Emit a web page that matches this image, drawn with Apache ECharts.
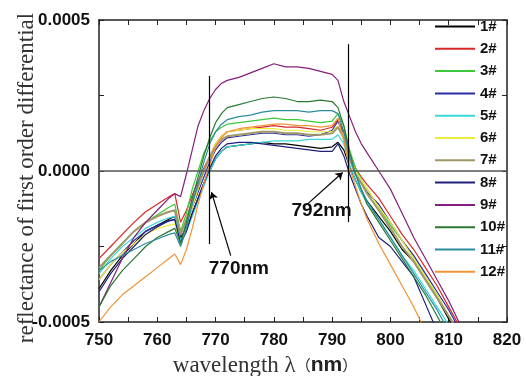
<!DOCTYPE html>
<html>
<head>
<meta charset="utf-8">
<script src="https://cdn.jsdelivr.net/npm/echarts@6/dist/echarts.min.js"></script>
<style>
  html, body { margin: 0; padding: 0; background: #fff; }
  #chart { width: 526px; height: 376px; }
</style>
</head>
<body>
<div id="chart"></div>
<script>
    // wavelength (nm)
    var wavelengths = [750, 752, 754, 756, 758, 760, 762, 763, 764, 765, 766, 767, 768, 769, 770, 771, 772,
                       774, 776, 778, 780, 782, 784, 786, 788, 790, 791, 792, 793, 794, 795, 796,
                       798, 800, 802, 804, 806, 808, 810, 812, 814];

    // first order differential, in units of 1e-4
    var s1  = [-3.9, -3.3, -2.8, -2.4, -2.0, -1.8, -1.6, -1.5, -2.2, -1.9, -1.4, -0.9, -0.4, 0.0, 0.4, 0.65, 0.8,
               0.85, 0.9, 0.95, 0.9, 0.9, 0.85, 0.8, 0.75, 0.8, 0.95, 0.7, 0.15, -0.3, -0.7, -1.0,
               -1.5, -2.0, -2.6, -3.0, -3.6, -4.2, -4.9, -5.5, -6.2];
    var s2  = [-2.9, -2.5, -2.1, -1.7, -1.35, -1.1, -0.85, -0.75, -1.7, -1.3, -0.8, -0.35, 0.1, 0.5, 0.9, 1.15, 1.3,
               1.35, 1.4, 1.45, 1.5, 1.45, 1.45, 1.4, 1.35, 1.45, 1.7, 1.3, 0.6, 0.1, -0.2, -0.45,
               -0.9, -1.5, -2.1, -2.6, -3.2, -3.8, -4.5, -5.2, -5.9];
    var s3  = [-3.3, -2.8, -2.4, -2.0, -1.7, -1.45, -1.2, -1.1, -2.0, -1.4, -0.6, 0.0, 0.6, 1.0, 1.3, 1.45, 1.55,
               1.6, 1.65, 1.7, 1.75, 1.7, 1.7, 1.65, 1.6, 1.65, 1.9, 1.5, 0.7, 0.1, -0.3, -0.6,
               -1.2, -1.8, -2.3, -2.9, -3.5, -4.1, -4.8, -5.5, -6.2];
    var s4  = [-3.6, -3.1, -2.7, -2.3, -2.0, -1.8, -1.65, -1.6, -2.3, -1.8, -1.2, -0.7, -0.2, 0.3, 0.7, 0.95, 1.1,
               1.15, 1.2, 1.25, 1.25, 1.2, 1.2, 1.15, 1.2, 1.35, 1.65, 1.2, 0.4, -0.1, -0.4, -0.7,
               -1.1, -1.7, -2.3, -2.8, -3.4, -4.0, -4.6, -5.3, -6.0];
    var s5  = [-3.4, -2.9, -2.5, -2.2, -1.9, -1.7, -1.55, -1.5, -2.3, -2.0, -1.5, -1.0, -0.5, 0.0, 0.4, 0.65, 0.8,
               0.85, 0.9, 0.95, 1.0, 1.0, 1.0, 1.05, 1.05, 1.05, 1.2, 0.9, 0.2, -0.3, -0.7, -1.1,
               -1.6, -2.2, -2.8, -3.3, -3.9, -4.5, -5.1, -5.8, -6.5];
    var s6  = [-3.6, -3.1, -2.7, -2.4, -2.1, -1.9, -1.8, -1.75, -2.4, -1.9, -1.2, -0.6, 0.0, 0.5, 0.9, 1.15, 1.3,
               1.35, 1.4, 1.4, 1.4, 1.35, 1.35, 1.3, 1.3, 1.3, 1.5, 1.2, 0.5, 0.0, -0.3, -0.6,
               -1.2, -1.7, -2.3, -2.9, -3.5, -4.1, -4.8, -5.5, -6.2];
    var s7  = [-3.2, -2.8, -2.4, -2.0, -1.7, -1.5, -1.35, -1.3, -2.1, -1.6, -1.0, -0.5, 0.0, 0.45, 0.8, 1.05, 1.15,
               1.2, 1.25, 1.3, 1.3, 1.25, 1.25, 1.2, 1.2, 1.25, 1.45, 1.1, 0.4, -0.1, -0.4, -0.75,
               -1.3, -1.9, -2.5, -3.0, -3.6, -4.2, -4.8, -5.4, -6.0];
    var s8  = [-4.0, -3.4, -2.9, -2.5, -2.1, -1.85, -1.65, -1.6, -2.4, -2.0, -1.4, -0.9, -0.4, 0.1, 0.5, 0.75, 0.9,
               0.95, 0.95, 0.9, 0.85, 0.8, 0.75, 0.7, 0.65, 0.65, 0.9, 0.5, -0.1, -0.6, -1.1, -1.5,
               -2.2, -2.5, -3.0, -3.5, -4.4, -5.3, -6.0, -6.6, -7.2];
    var s9  = [-4.5, -3.7, -2.9, -2.2, -1.7, -1.3, -0.9, -0.75, -0.85, -0.1, 0.7, 1.5, 2.0, 2.4, 2.7, 2.9, 3.0,
               3.1, 3.25, 3.4, 3.55, 3.45, 3.45, 3.4, 3.3, 3.2, 3.0, 2.3, 1.8, 1.3, 0.9, 0.6,
               0.0, -0.6, -1.4, -2.2, -2.9, -3.6, -4.3, -5.1, -5.9];
    var s10 = [-4.5, -3.8, -3.3, -2.9, -2.5, -2.2, -2.0, -1.9, -2.4, -1.7, -0.9, -0.2, 0.5, 1.1, 1.6, 1.9, 2.1,
               2.2, 2.3, 2.4, 2.45, 2.4, 2.3, 2.3, 2.35, 2.3, 2.1, 1.5, 0.6, -0.1, -0.6, -1.1,
               -1.7, -2.3, -2.9, -3.5, -4.1, -4.8, -5.5, -6.2, -6.9];
    var s11 = [-3.3, -3.0, -2.8, -2.6, -2.4, -2.25, -2.1, -2.05, -2.5, -1.9, -1.1, -0.4, 0.3, 0.9, 1.3, 1.55, 1.7,
               1.8, 1.85, 1.95, 2.0, 2.0, 2.0, 1.95, 2.0, 2.0, 1.9, 1.3, 0.5, -0.1, -0.6, -1.0,
               -1.6, -2.2, -2.8, -3.4, -4.0, -4.6, -5.3, -6.0, -6.7];
    var s12 = [-5.0, -4.5, -4.1, -3.8, -3.5, -3.2, -2.9, -2.75, -3.1, -2.6, -1.9, -1.1, -0.4, 0.2, 0.8, 1.1, 1.3,
               1.4, 1.45, 1.5, 1.55, 1.55, 1.5, 1.5, 1.45, 1.5, 1.75, 1.0, 0.1, -0.5, -1.1, -1.6,
               -2.4, -3.1, -3.8, -4.5, -5.3, -6.1, -6.9, -7.6, -8.3];

    var sampleNames  = ['1#', '2#', '3#', '4#', '5#', '6#', '7#', '8#', '9#', '10#', '11#', '12#'];
    var sampleValues = [s1, s2, s3, s4, s5, s6, s7, s8, s9, s10, s11, s12];
    var sampleColors = ['#000000', '#d8282a', '#3cc83c', '#2c2ca8', '#38d8d8', '#ecec3c',
                        '#a09868', '#202078', '#84207c', '#2a7a32', '#2c8c9c', '#f09438'];

    var chart = echarts.init(document.getElementById('chart'));

    var boldFont = 'Liberation Sans, Arial, sans-serif';
    var serifFont = 'Liberation Serif, Times New Roman, serif';

    var series = sampleNames.map(function (name, k) {
        return {
            name: name,
            type: 'line',
            symbol: 'none',
            clip: true,
            data: wavelengths.map(function (w, i) { return [w, sampleValues[k][i]]; }),
            lineStyle: { width: k === 6 ? 2 : 1.2, color: sampleColors[k] },
            itemStyle: { color: sampleColors[k] }
        };
    });

    // zero line, marker lines, arrows and their texts
    series.push({
        name: 'marks',
        type: 'line',
        data: [],
        silent: true,
        markLine: {
            silent: true,
            symbol: ['none', 'none'],
            label: { show: false },
            lineStyle: { color: '#000', width: 1.2, type: 'solid' },
            data: [
                [{ coord: [750, 0], lineStyle: { color: '#555', width: 1.5 } }, { coord: [820, 0] }],
                [{ coord: [768.9, 3.15] }, { coord: [768.9, -2.42] }],
                [{ coord: [792.7, 4.2] }, { coord: [792.7, -1.69] }],
                [{ coord: [772.6, -2.8] }, { coord: [769.3, -0.7], symbol: 'arrow', symbolSize: 7 }],
                [{ coord: [785.8, -1.09] }, { coord: [791.8, -0.05], symbol: 'arrow', symbolSize: 7 }]
            ]
        },
        markPoint: {
            silent: true,
            symbol: 'circle',
            symbolSize: 0,
            label: {
                show: true, position: 'inside', color: '#111',
                fontFamily: boldFont, fontWeight: 'bold', fontSize: 19,
                formatter: function (p) { return p.name; }
            },
            data: [
                { name: '770nm', coord: [774.0, -3.25] },
                { name: '792nm', coord: [788.2, -1.32] }
            ]
        }
    });

    var tickStyle = { color: '#222', width: 1 };
    var lineStyleAxis = { color: '#222', width: 1.5 };

    var option = {
        animation: false,
        backgroundColor: '#fff',
        grid: { left: 99, right: 19, top: 20, bottom: 54, outerBoundsMode: 'none' },
        legend: {
            data: sampleNames,
            orient: 'vertical',
            left: 430,
            top: 14,
            icon: 'rect',
            itemWidth: 40,
            itemHeight: 2,
            itemGap: 7.3,
            textStyle: { fontFamily: boldFont, fontWeight: 'bold', fontSize: 15, color: '#111' }
        },
        xAxis: [
            {
                type: 'value', min: 750, max: 820, interval: 10, position: 'bottom',
                axisLine: { show: true, onZero: false, lineStyle: lineStyleAxis },
                axisTick: { show: true, inside: true, length: 5, lineStyle: tickStyle },
                minorTick: { show: true, splitNumber: 2, length: 5, lineStyle: tickStyle },
                splitLine: { show: false },
                axisLabel: { fontFamily: boldFont, fontWeight: 'bold', fontSize: 17, color: '#111', margin: 10 },
                name: '{a|wavelength λ}{p|（}{b|nm}{p|）}',
                nameLocation: 'middle',
                nameMoveOverlap: false,
                nameGap: 32,
                nameTextStyle: {
                    padding: [0, 76, 0, 0],
                    rich: {
                        a: { fontFamily: serifFont, fontSize: 23, color: '#333' },
                        p: { fontFamily: 'Noto Sans CJK SC', fontSize: 15, color: '#222' },
                        b: { fontFamily: boldFont, fontWeight: 'bold', fontSize: 21, color: '#222' }
                    }
                }
            },
            {
                type: 'value', min: 750, max: 820, interval: 10, position: 'top',
                axisLine: { show: true, onZero: false, lineStyle: lineStyleAxis },
                axisTick: { show: true, inside: true, length: 5, lineStyle: tickStyle },
                minorTick: { show: true, splitNumber: 2, length: 5, lineStyle: tickStyle },
                splitLine: { show: false },
                axisLabel: { show: false }
            }
        ],
        yAxis: [
            {
                type: 'value', min: -5, max: 5, interval: 5, position: 'left',
                axisLine: { show: true, onZero: false, lineStyle: lineStyleAxis },
                axisTick: { show: true, inside: true, length: 5, lineStyle: tickStyle },
                minorTick: { show: true, splitNumber: 2, length: 5, lineStyle: tickStyle },
                splitLine: { show: false },
                axisLabel: {
                    fontFamily: boldFont, fontWeight: 'bold', fontSize: 17, color: '#111', margin: 9,
                    formatter: function (v) { return (v * 1e-4).toFixed(4); }
                },
                name: 'reflectance of first order differential',
                nameLocation: 'middle',
                nameRotate: 90,
                nameMoveOverlap: false,
                nameGap: 61,
                nameTextStyle: { fontFamily: serifFont, fontSize: 23, color: '#333', padding: [0, 14, 0, 0] }
            },
            {
                type: 'value', min: -5, max: 5, interval: 5, position: 'right',
                axisLine: { show: true, onZero: false, lineStyle: lineStyleAxis },
                axisTick: { show: true, inside: true, length: 5, lineStyle: tickStyle },
                minorTick: { show: true, splitNumber: 2, length: 5, lineStyle: tickStyle },
                splitLine: { show: false },
                axisLabel: { show: false }
            }
        ],
        series: series
    };

    chart.setOption(option);
</script>
</body>
</html>
